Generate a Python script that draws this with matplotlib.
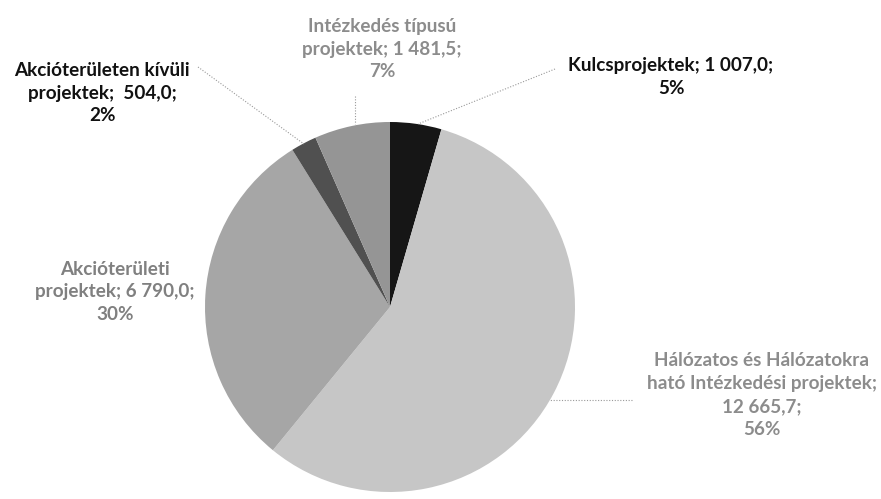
import matplotlib
matplotlib.use("Agg")
import matplotlib.pyplot as plt

# Data
categories = [
    "Kulcsprojektek",
    "Hálózatos és Hálózatokra ható Intézkedési projektek",
    "Akcióterületi projektek",
    "Akcióterületen kívüli projektek",
    "Intézkedés típusú projektek",
]
values = [1007.0, 12665.7, 6790.0, 504.0, 1481.5]
percents = ["5%", "56%", "30%", "2%", "7%"]
label_texts = [
    "Kulcsprojektek; 1 007,0;\n5%",
    "Hálózatos és Hálózatokra\nható Intézkedési projektek;\n12 665,7;\n56%",
    "Akcióterületi\nprojektek; 6 790,0;\n30%",
    "Akcióterületen kívüli\nprojektek;  504,0;\n2%",
    "Intézkedés típusú\nprojektek; 1 481,5;\n7%",
]

# Styles
colors = ["#161616", "#c6c6c6", "#a6a6a6", "#505050", "#959595"]
text_colors = ["#111111", "#8c8c8c", "#808080", "#111111", "#8c8c8c"]
label_pos = [(671, 77), (762, 395), (115, 292), (102, 93), (382, 49)]
leaders = [
    [(555, 69), (418, 124)],
    [(632, 400), (549, 400)],
    None,
    [(198, 67), (304, 144)],
    [(355, 96), (355, 124)],
]

W, H = 881, 499
fig = plt.figure(figsize=(W / 100, H / 100), dpi=100)
ax = fig.add_axes([0, 0, 1, 1])
ax.pie(values, colors=colors, center=(390, 307), radius=185,
       startangle=-90, counterclock=True,
       wedgeprops=dict(linewidth=0))
ax.set_aspect("auto")
ax.set_xlim(0, W)
ax.set_ylim(H, 0)
ax.axis("off")

for txt, (x, y), c in zip(label_texts, label_pos, text_colors):
    ax.text(x, y, txt, ha="center", va="center", fontsize=13.6,
            family="Lato", fontweight="bold", color=c, linespacing=1.42)

for seg in leaders:
    if seg is None:
        continue
    (x0, y0), (x1, y1) = seg
    ax.plot([x0, x1], [y0, y1], color="#999999", lw=0.8, ls=(0, (1, 1.5)))

fig.savefig("out.png", dpi=100)
